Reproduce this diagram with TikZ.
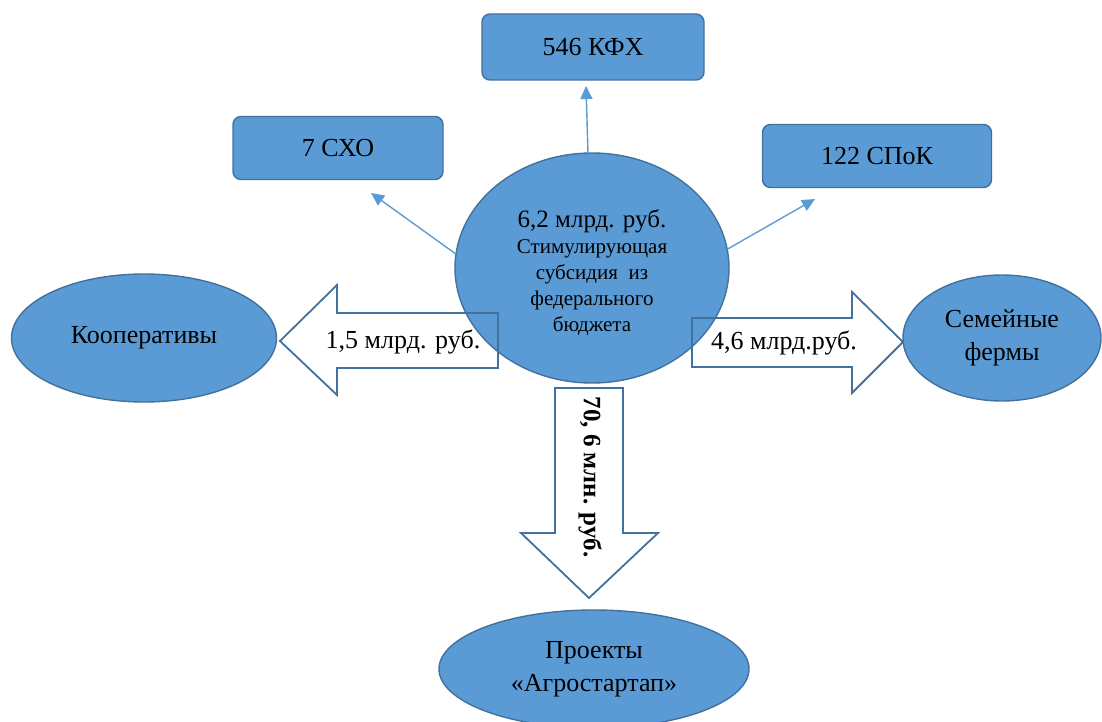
\documentclass[tikz,border=0pt]{standalone}
\usepackage{fontspec}
\setmainfont{Liberation Serif}
\usetikzlibrary{shapes.geometric,arrows.meta}
\definecolor{fillblue}{HTML}{5B9BD5}
\definecolor{bordblue}{HTML}{41719C}
\tikzset{
	blob/.style={ellipse, draw=bordblue, fill=fillblue, line width=0.7pt, inner sep=0pt, align=center},
	tile/.style={rectangle, rounded corners=4pt, draw=bordblue, fill=fillblue, line width=0.7pt, inner sep=0pt},
	link/.style={draw=fillblue, line width=0.7pt, -{Triangle[length=6.5pt,width=6pt]}},
	fatarrow/.style={draw=bordblue, line width=0.9pt, line join=miter}
}
\begin{document}
\begin{tikzpicture}[x=0.5pt, y=-0.5pt, font=\fontsize{13}{16.5}\selectfont, line cap=round]
		\useasboundingbox (0,0) rectangle (1102,722);
		% outer nodes
		\node[tile, minimum width=111pt, minimum height=33pt] (kfh) at (593,47) {546 КФХ};
		\node[tile, minimum width=105pt, minimum height=31.5pt] (sho) at (338,148) {7 СХО};
		\node[tile, minimum width=114.5pt, minimum height=31.5pt] (spok) at (877,156) {122 СПоК};
		\node[blob, minimum width=132.5pt, minimum height=64pt] (koop) at (144,338) {Кооперативы};
		\node[blob, minimum width=99pt, minimum height=63pt] (fam) at (1002,338) {Семейные\\ фермы};
		\node[blob, minimum width=155pt, minimum height=59pt] (agro) at (594,669) {Проекты\\ «Агростартап»};
		% hub
		\node[blob, minimum width=137pt, minimum height=115pt] (hub) at (592,268) {};
		\node[align=center, font=\fontsize{10.5}{13}\selectfont] (hubtext) at (592,273)
			{{\fontsize{12.5}{15}\selectfont 6,2 млрд. руб.}\\ Стимулирующая\\ субсидия~~из\\ федерального\\ бюджета};
		% thin arrows
		\coordinate (kfhend) at (586,86);
		\coordinate (shoend) at (371,193);
		\coordinate (spokend) at (815,199);
		\draw[link] (hub.92) -- (kfhend);
		\draw[link] (hub.174) -- (shoend);
		\draw[link] (hub.8) -- (spokend);
		% block arrows
		\draw[fatarrow] (498,313)--(337,313)--(337,285)--(280,341)--(337,395)--(337,368)--(498,368)--cycle;
		\draw[fatarrow] (692,318)--(852,318)--(852,292)--(903,342)--(852,393)--(852,367)--(692,367)--cycle;
		\draw[fatarrow] (555,388)--(623,388)--(623,533)--(658,533)--(589,598)--(521,533)--(555,533)--cycle;
		\node (left) at (403,342) {1,5 млрд. руб.};
		\node (right) at (784,343) {4,6 млрд.руб.};
		\node[rotate=-90, font=\fontsize{12.5}{15}\selectfont\bfseries] (down) at (590,477) {70, 6 млн. руб.};
\end{tikzpicture}
\end{document}
